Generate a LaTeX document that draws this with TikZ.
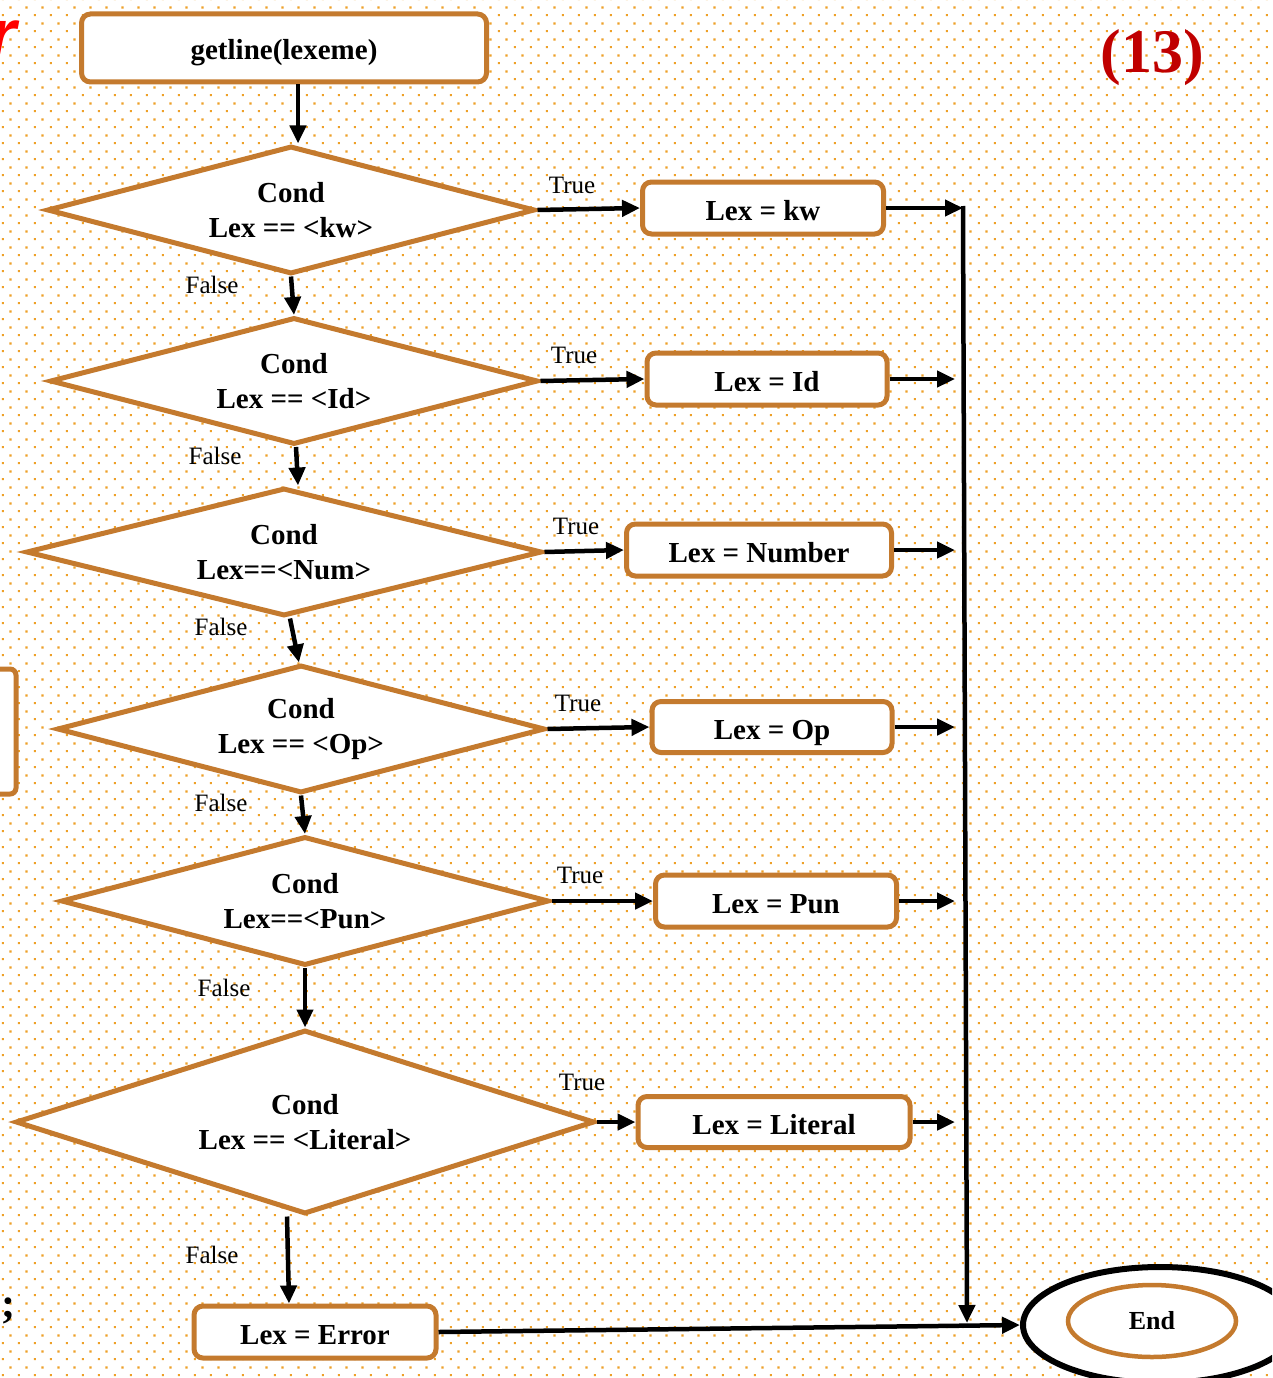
\documentclass[tikz,border=0pt]{standalone}
\usepackage{fontspec}
\setmainfont{Liberation Serif}
\newfontfamily\redsans{Liberation Sans}
\usetikzlibrary{shapes.geometric,arrows.meta,patterns}

\definecolor{boxorange}{RGB}{196,122,46}
\definecolor{dotorange}{RGB}{238,160,40}
\definecolor{numred}{RGB}{192,0,0}

\pgfdeclarepatternformonly{orangedots}{\pgfpointorigin}{\pgfpoint{16pt}{16pt}}{\pgfpoint{16pt}{16pt}}{%
    \pgfpathrectangle{\pgfpoint{3pt}{3pt}}{\pgfpoint{2.3pt}{2.3pt}}%
    \pgfpathrectangle{\pgfpoint{11pt}{11pt}}{\pgfpoint{2.3pt}{2.3pt}}%
    \pgfusepath{fill}}

\tikzset{
    procbox/.style={draw=boxorange, line width=5pt, fill=white, rounded corners=9pt,
        inner sep=0pt, text height=26pt, text depth=2pt, font=\fontsize{29}{35}\selectfont\bfseries},
    condnode/.style={diamond, aspect=4, draw=boxorange, line width=5pt, fill=white,
        inner sep=0pt, align=center, font=\fontsize{29}{35}\selectfont\bfseries},
    flow/.style={line width=4.5pt, -{Triangle[length=18pt,width=16pt]}},
    branch/.style={font=\fontsize{25}{30}\selectfont},
}

\begin{document}
\begin{tikzpicture}[x=1pt,y=-1pt]
                \useasboundingbox (0,0) rectangle (1272,1378);
                \clip (0,0) rectangle (1272,1378);
                %background
                \fill[white] (0,0) rectangle (1272,1378);
                \fill[pattern=orangedots, pattern color=dotorange] (0,0) rectangle (1272,1378);
                %cut pieces at the left edge
                \draw[draw=boxorange, line width=5pt, fill=white, rounded corners=6pt] (-80,669) rectangle (16,794);
                \node[anchor=base east, text=red, font=\redsans\fontsize{72}{72}\selectfont\bfseries\itshape] (redr) at (20,60) {r};
                \node[anchor=base, font=\fontsize{42}{42}\selectfont\bfseries] (semi) at (8,1317) {;};
                \node[text=numred, font=\fontsize{62}{70}\selectfont\bfseries] (pagenum) at (1152,58) {(13)};

                %boxes and conditions
                \node[procbox, minimum width=405pt, minimum height=68pt] (getline) at (284,48) {getline(lexeme)};
                \node[condnode, minimum width=488pt, minimum height=128pt] (d1) at (291,210) {Cond\\Lex == <kw>};
                \node[condnode, minimum width=488pt, minimum height=127pt] (d2) at (294,381) {Cond\\Lex == <Id>};
                \node[condnode, minimum width=516pt, minimum height=128pt] (d3) at (284,552) {Cond\\Lex==<Num>};
                \node[condnode, minimum width=488pt, minimum height=128pt] (d4) at (301,729) {Cond\\Lex == <Op>};
                \node[condnode, minimum width=488pt, minimum height=129pt] (d5) at (305,901) {Cond\\Lex==<Pun>};
                \node[condnode, minimum width=579pt, minimum height=184pt] (d6) at (305,1122) {Cond\\Lex == <Literal>};

                \node[procbox, minimum width=241pt, minimum height=52pt] (kw) at (763,208) {Lex = kw};
                \node[procbox, minimum width=240pt, minimum height=52pt] (id) at (767,379) {Lex = Id};
                \node[procbox, minimum width=265pt, minimum height=52pt] (num) at (759,550) {Lex = Number};
                \node[procbox, minimum width=240pt, minimum height=51pt] (op) at (772,727) {Lex = Op};
                \node[procbox, minimum width=241pt, minimum height=52pt] (pun) at (776,901) {Lex = Pun};
                \node[procbox, minimum width=272pt, minimum height=51pt] (lit) at (774,1122) {Lex = Literal};
                \node[procbox, minimum width=242pt, minimum height=52pt] (err) at (315,1332) {Lex = Error};

                \node[ellipse, draw=black, line width=6pt, fill=white, inner sep=0pt,
                    minimum width=274pt, minimum height=116pt] (endring) at (1160,1325) {};
                \node[ellipse, draw=boxorange, line width=4.5pt, fill=white, inner sep=0pt,
                    minimum width=168pt, minimum height=72pt,
                    font=\fontsize{26}{30}\selectfont\bfseries] (endnode) at (1152,1321) {End};

                %labels
                \foreach \y [count=\i] in {185,355,526,703,875,1082}
                    \node[branch] (true\i) at (570+2*\i,\y) {True};
                \foreach \x/\y [count=\i] in {212/285,215/456,221/627,221/803,224/988,212/1255}
                    \node[branch] (false\i) at (\x,\y) {False};

                %arrows down
                \draw[flow] ([xshift=14pt]getline.south) -- ([xshift=7pt]d1.north);
                \draw[flow] (d1.south) -- (d2.north);
                \draw[flow] ([xshift=2pt]d2.south) -- ([xshift=14pt]d3.north);
                \draw[flow] ([xshift=6pt]d3.south) -- ([xshift=-2pt]d4.north);
                \draw[flow] (d4.south) -- (d5.north);
                \draw[flow] (d5.south) -- (d6.north);
                \draw[flow] ([xshift=-18pt]d6.south) -- ([xshift=-26pt]err.north);

                %arrows right
                \foreach \d/\b in {d1/kw,d2/id,d3/num,d4/op,d5/pun,d6/lit}
                    \draw[flow] (\d.east) -- (\b.west);
                \coordinate (stopline) at (955,0);
                \foreach \b in {id,num,op,pun,lit}
                    \draw[flow] (\b.east) -- (\b.east -| stopline);

                %collecting line
                \coordinate (bustop) at (963,208);
                \coordinate (busend) at (967,1323);
                \draw[flow] (kw.east) -- (bustop);
                \draw[flow, shorten <=-2pt] (bustop) -- (busend);
                \draw[flow] (err.east) -- (endring.west);
            \end{tikzpicture}
\end{document}
